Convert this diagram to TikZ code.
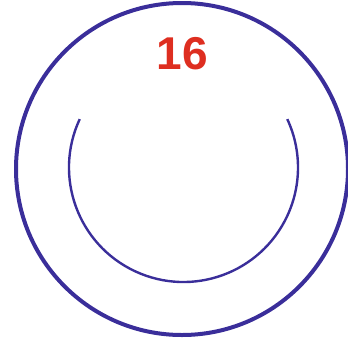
\documentclass[tikz,border=0pt]{standalone}
\usepackage{fontspec}
\setmainfont{Liberation Sans}
\definecolor{ringblue}{RGB}{58,46,154}
\definecolor{numred}{RGB}{222,46,32}
\begin{document}
\begin{tikzpicture}[x=1pt,y=-1pt,
  outerring/.style={draw=ringblue,line width=4pt},
  innerring/.style={draw=ringblue,line width=2.4pt},
  numlabel/.style={text=numred,font=\bfseries\fontsize{46}{46}\selectfont,inner sep=0pt}]
\useasboundingbox (0,0) rectangle (348,346);
\coordinate (c) at (182,169);
\draw[outerring] (c) circle[radius=166];
\coordinate (ic) at (183.5,167.5);
\draw[innerring] (ic) ++(205:114.5) arc[start angle=205,end angle=-25,radius=114.5];
\node[numlabel] (n) at (182.5,53.5) {16};
\end{tikzpicture}
\end{document}
